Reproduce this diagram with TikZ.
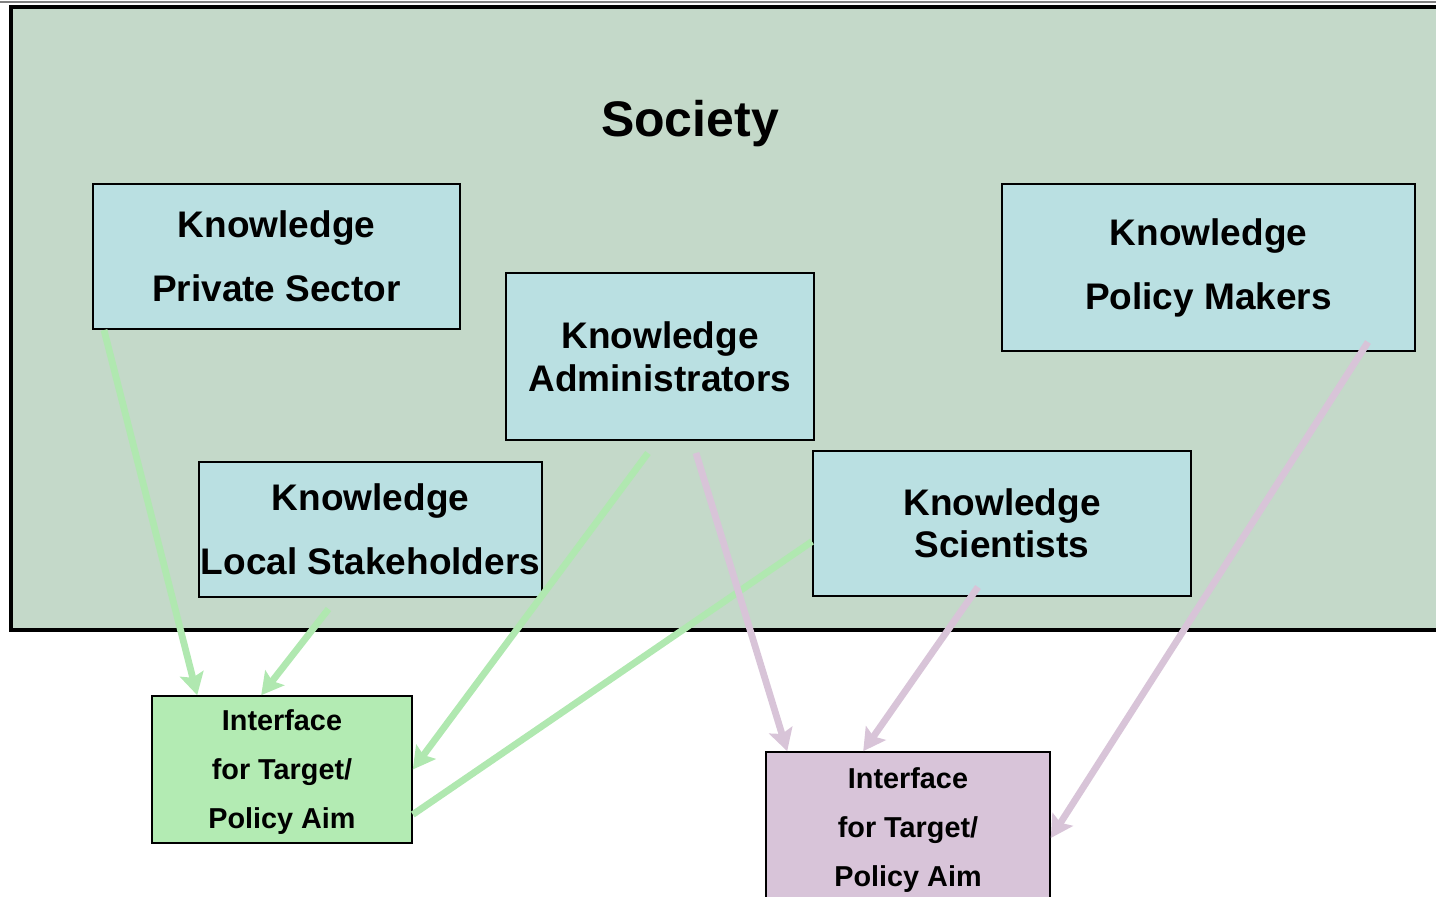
\documentclass[tikz,border=0pt]{standalone}
\usepackage{fontspec}
\setmainfont{Liberation Sans}
\usepackage{tikz}
\usetikzlibrary{arrows.meta}
\definecolor{societybg}{RGB}{196,217,201}
\definecolor{knowbg}{RGB}{186,224,226}
\definecolor{greenbg}{RGB}{179,235,179}
\definecolor{purplebg}{RGB}{216,196,217}
\definecolor{greenln}{RGB}{176,232,176}
\definecolor{purpleln}{RGB}{216,196,216}

\begin{document}
\begin{tikzpicture}[x=0.5pt,y=-0.5pt,
    know/.style={draw=black,line width=1pt,fill=knowbg,inner sep=0pt,align=center,
      font=\bfseries\fontsize{18.5}{32}\selectfont},
    iface/.style={draw=black,line width=0.8pt,inner sep=0pt,align=center,text depth=0pt,
      font=\bfseries\fontsize{14.4}{24.5}\selectfont},
    link/.style={line width=3.4pt,-{Stealth[length=11pt,width=12pt,inset=2pt]}}]
      \useasboundingbox (0,0) rectangle (1436,896);
      \clip (0,0) rectangle (1436,896);
      \draw[gray,line width=1pt] (0,1.5) -- (1436,1.5);
      % society frame
      \draw[fill=societybg,line width=1.8pt] (11,7) rectangle (1470,630);
      \node[font=\bfseries\fontsize{25}{30}\selectfont](society) at (690,124){Society};
      % knowledge boxes
      \node[know,minimum width=183.5pt,minimum height=72.5pt](privsec) at (276.5,256.5){Knowledge\\Private Sector};
      \node[know,minimum width=154pt,minimum height=83.5pt,font=\bfseries\fontsize{18.5}{21.5}\selectfont](admin) at (660,356.5){Knowledge\\Administrators};
      \node[know,minimum width=206.5pt,minimum height=83.5pt](policymk) at (1208.5,267.5){Knowledge\\Policy Makers};
      \node[know,minimum width=171.5pt,minimum height=67.5pt](localst) at (370.5,529.5){Knowledge\\Local Stakeholders};
      \node[know,minimum width=189pt,minimum height=72.5pt,font=\bfseries\fontsize{18.5}{21}\selectfont](scient) at (1002,523.5){Knowledge\\Scientists};
      % interfaces
      \node[iface,fill=greenbg,minimum width=130pt,minimum height=73.5pt](ifaceA) at (282,769.5){Interface\\for Target/\\Policy Aim};
      \node[iface,fill=purplebg,minimum width=142pt,minimum height=75pt](ifaceB) at (908,827){Interface\\for Target/\\Policy Aim};
      % green links
      \draw[link,greenln] ([xshift=6pt]privsec.south west) -- ([xshift=23pt]ifaceA.north west);
      \draw[link,greenln] ([xshift=-21pt,yshift=-5.5pt]localst.south) -- ([xshift=55pt]ifaceA.north west);
      \draw[link,greenln] ([xshift=-6pt,yshift=-6pt]admin.south) -- (ifaceA.east);
      \draw[greenln,line width=3.4pt] ([yshift=-9pt]scient.west) -- ([yshift=-22.5pt]ifaceA.east);
      % purple links
      \draw[link,purpleln] ([xshift=18pt,yshift=-6pt]admin.south) -- ([xshift=11pt]ifaceB.north west);
      \draw[link,purpleln] ([xshift=-12pt,yshift=5pt]scient.south) -- ([xshift=49pt]ifaceB.north west);
      \draw[link,purpleln] ([xshift=-24pt,yshift=5pt]policymk.south east) -- ([yshift=-5.5pt]ifaceB.east);
\end{tikzpicture}
\end{document}
